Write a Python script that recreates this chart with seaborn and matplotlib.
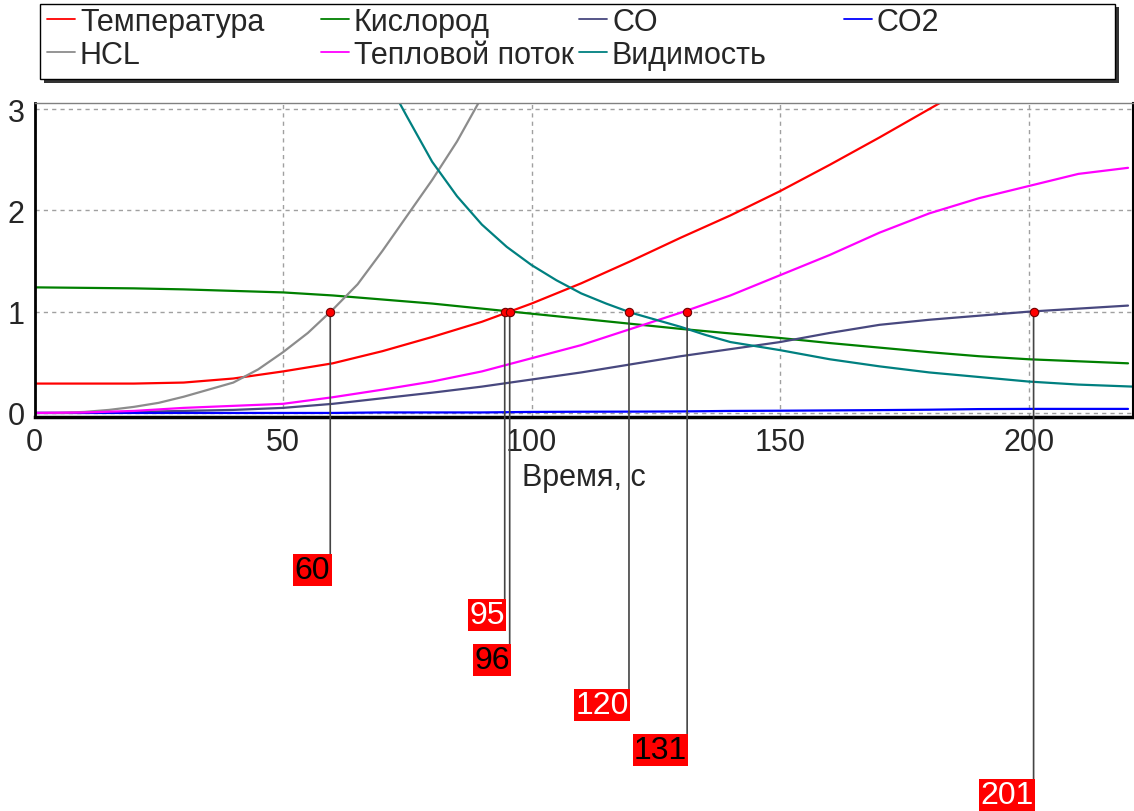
import matplotlib
matplotlib.use("Agg")
import matplotlib.pyplot as plt
import pandas as pd
import seaborn as sns
from matplotlib.lines import Line2D
from matplotlib.patches import Rectangle
from matplotlib.ticker import MultipleLocator

sns.set_style("white")
plt.rcParams["font.family"] = ["Liberation Sans", "DejaVu Sans"]

# time grid, s
t = [0, 10, 20, 30, 40, 50, 60, 70, 80, 90, 100, 110,
     120, 130, 140, 150, 160, 170, 180, 190, 200, 210, 220]
temperature = [0.29, 0.29, 0.29, 0.30, 0.34, 0.41, 0.49, 0.61, 0.75, 0.90, 1.08, 1.28,
               1.50, 1.73, 1.95, 2.19, 2.45, 2.72, 3.00, 3.28, 3.55, 3.80, 4.05]
oxygen = [1.24, 1.235, 1.23, 1.22, 1.205, 1.19, 1.16, 1.12, 1.08, 1.03, 0.98, 0.93,
          0.88, 0.83, 0.785, 0.74, 0.69, 0.645, 0.60, 0.56, 0.53, 0.51, 0.49]
co = [0.0, 0.0, 0.01, 0.02, 0.03, 0.05, 0.09, 0.145, 0.20, 0.26, 0.33, 0.40,
      0.48, 0.56, 0.63, 0.70, 0.79, 0.87, 0.92, 0.96, 1.0, 1.03, 1.06]
co2 = [0.0, 0.0, 0.0, 0.0, 0.0, 0.0, 0.0, 0.005, 0.005, 0.005, 0.01, 0.012,
       0.013, 0.015, 0.02, 0.022, 0.025, 0.028, 0.032, 0.038, 0.04, 0.04, 0.04]
heat_flux = [0.0, 0.005, 0.02, 0.05, 0.07, 0.09, 0.155, 0.23, 0.31, 0.41, 0.54, 0.67,
             0.83, 0.99, 1.16, 1.36, 1.56, 1.78, 1.97, 2.12, 2.24, 2.36, 2.42]

hcl_t = [0, 5, 10, 15, 20, 25, 30, 35, 40, 45, 50, 55, 60, 65, 70, 75, 80, 85, 90]
hcl = [0.0, 0.0, 0.01, 0.03, 0.06, 0.10, 0.16, 0.23, 0.30, 0.43, 0.60, 0.79,
       1.02, 1.27, 1.60, 1.95, 2.30, 2.68, 3.12]

vis_t = [73, 75, 80, 85, 90, 95, 100, 105, 110, 115, 120, 125, 130, 135, 140,
         150, 160, 170, 180, 190, 200, 210, 221]
visibility = [3.10, 2.92, 2.48, 2.14, 1.86, 1.64, 1.46, 1.31, 1.18, 1.08, 0.99, 0.92,
              0.85, 0.77, 0.70, 0.62, 0.53, 0.46, 0.40, 0.355, 0.31, 0.28, 0.26]

names = ["Температура", "Кислород", "CO", "CO2", "HCL", "Тепловой поток", "Видимость"]
colors = ["#ff0000", "#008000", "#48487f", "#0000ff", "#8c8c8c", "#ff00ff", "#008080"]

# threshold crossings (value = 1)
cross_t = [59.5, 94.6, 95.6, 119.6, 131.3, 201.0]
cross_labels = ["60", "95", "96", "120", "131", "201"]
label_fg = ["black", "white", "black", "white", "black", "white"]

series = [(t, temperature), (t, oxygen), (t, co), (t, co2),
          (hcl_t, hcl), (t, heat_flux), (vis_t, visibility)]
df = pd.concat([pd.DataFrame({"t": x, "v": y, "s": n})
                for (x, y), n in zip(series, names)], ignore_index=True)

fig = plt.figure(figsize=(11.34, 8.12), dpi=100)
ax = fig.add_axes([34.5 / 1134, 1 - 418 / 812, (1133 - 34.5) / 1134, (418 - 104) / 812])

sns.lineplot(data=df, x="t", y="v", hue="s", palette=dict(zip(names, colors)),
             estimator=None, linewidth=1.6, legend=False, ax=ax)

ax.set_xlim(0, 221)
ax.set_ylim(-0.04, 3.06)
ax.set_xticks([0, 50, 100, 150, 200])
ax.set_yticks([0, 1, 2, 3])
ax.xaxis.set_minor_locator(MultipleLocator(12.5))
ax.yaxis.set_minor_locator(MultipleLocator(0.25))
ax.tick_params(which="both", direction="out", length=4, width=1, color="#808080")
ax.tick_params(which="major", labelsize=22, pad=3)
ax.grid(True, which="major", color="#a0a0a0", linestyle=(0, (3, 3)), linewidth=1)
ax.set_xlabel("Время, с", fontsize=22, labelpad=4)
ax.set_ylabel("")

for side, c, lw in [("left", "black", 2), ("bottom", "black", 2.5),
                    ("top", "#808080", 1), ("right", "black", 1.5)]:
    ax.spines[side].set_visible(True)
    ax.spines[side].set_color(c)
    ax.spines[side].set_linewidth(lw)

ax.scatter(cross_t, [1] * len(cross_t), s=36, color="red", edgecolor="#700000",
           linewidth=0.8, zorder=5)

for i, (x, lab, fg) in enumerate(zip(cross_t, cross_labels, label_fg)):
    ax.annotate(lab, xy=(x, 1), xycoords="data",
                xytext=(x, 226 - 45 * i), textcoords=("data", "figure pixels"),
                ha="right", va="bottom", fontsize=23, color=fg,
                bbox=dict(boxstyle="square,pad=0.04", fc="red", ec="none"),
                arrowprops=dict(arrowstyle="-", color="#444444", lw=1.2,
                                relpos=(1, 0), shrinkA=0, shrinkB=0),
                annotation_clip=False)

# legend frame with shadow
fig.add_artist(Rectangle((44 / 1134, 1 - 84 / 812), 1075 / 1134, 76 / 812,
                         transform=fig.transFigure, fc="#333333", ec="none"))
fig.add_artist(Rectangle((40 / 1134, 1 - 80 / 812), 1075 / 1134, 75 / 812,
                         transform=fig.transFigure, fc="white", ec="black", lw=1))

# equal-width legend columns, one legend per column
handles = [Line2D([], [], color=c, lw=1.3) for c in colors]
columns = [[0, 4], [1, 5], [2, 6], [3]]
col_x = [47, 321, 579, 844]
for idx, x0 in zip(columns, col_x):
    fig.legend([handles[i] for i in idx], [names[i] for i in idx],
               loc="upper left", bbox_to_anchor=(x0 / 1134, 1 - 8 / 812),
               frameon=False, fontsize=22, handlelength=0.92, handletextpad=0.16,
               borderpad=0, borderaxespad=0, labelspacing=0.1)

fig.savefig("out.png", dpi=100)
